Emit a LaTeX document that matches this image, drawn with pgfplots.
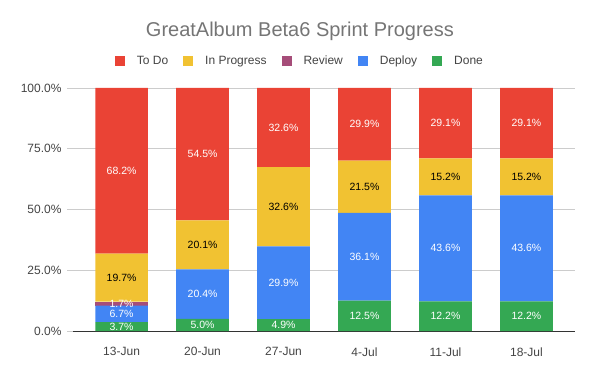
\documentclass[border=0pt]{standalone}
\usepackage{pgfplots}
\usepackage{pgfplotstable}
\pgfplotsset{compat=1.18}
\usepackage{fontspec}
\setmainfont{Liberation Sans}
\definecolor{cTodo}{HTML}{EA4335}
\definecolor{cProg}{HTML}{F1C232}
\definecolor{cRev}{HTML}{A64D79}
\definecolor{cDep}{HTML}{4285F4}
\definecolor{cDone}{HTML}{34A853}
\definecolor{cTick}{HTML}{444444}
\definecolor{cTitle}{HTML}{757575}
\definecolor{cGrid}{HTML}{CCCCCC}
\definecolor{cAxis}{HTML}{333333}
\pgfplotstableread{
x done deploy review prog todo
0 3.7 6.7 1.7 19.7 68.2
1 5.0 20.4 0 20.1 54.5
2 4.9 29.9 0 32.6 32.6
3 12.5 36.1 0 21.5 29.9
4 12.2 43.6 0 15.2 29.1
5 12.2 43.6 0 15.2 29.1
}\data
\pgfplotsset{
  geom/.style={at={(73bp,40bp)}, anchor=south west,
    scale only axis, width=502bp, height=243bp,
    xmin=-0.6, xmax=5.6, ymin=0, ymax=100},
  lbl/.style={only marks, mark=*, mark size=0pt, mark options={draw=none, fill=none},
    point meta=explicit, nodes near coords={\pgfmathprintnumber[assume math mode=true,fixed,fixed zerofill,precision=1]{\pgfplotspointmeta}\%},
    every node near coord/.append style={anchor=center, inner sep=0pt,
      font=\fontsize{10.5bp}{12bp}\selectfont, text=#1}},
}
\begin{document}
\begin{tikzpicture}[x=1bp,y=1bp]
\useasboundingbox (0,0) rectangle (600,371);
\begin{axis}[
  geom,
  ybar stacked, bar width=0.65,
  xtick={0,...,5},
  xticklabels={13-Jun,20-Jun,27-Jun,4-Jul,11-Jul,18-Jul},
  ytick={0,25,50,75,100},
  yticklabel={\pgfmathprintnumber[fixed,fixed zerofill,precision=1]{\tick}\%},
  /pgf/number format/assume math mode=true,
  ticklabel style={font=\fontsize{12bp}{14bp}\selectfont, text=cTick},
  axis x line*=bottom, axis y line*=left,
  y axis line style={draw=none},
  x axis line style={draw=cAxis, line width=0.9bp, -},
  xtick style={draw=none},
  ytick style={draw=cGrid, line width=0.8bp},
  tick align=outside, major tick length=6bp,
  ymajorgrids, grid style={draw=cGrid, line width=0.8bp},
  xticklabel style={yshift=-7bp},
  yticklabel style={xshift=-2bp},
  title={GreatAlbum Beta6 Sprint Progress},
  title style={at={(0.452,1.21)}, anchor=center, font=\fontsize{20bp}{24bp}\selectfont, text=cTitle},
  legend style={at={(0.452,1.111)}, anchor=center, draw=none, legend columns=5,
    font=\fontsize{12bp}{14bp}\selectfont, text=cTick,
    /tikz/every odd column/.append style={column sep=10bp},
    /tikz/every even column/.append style={column sep=13bp}},
  legend image code/.code={\fill[#1] (0bp,-5bp) rectangle (10bp,5bp);},
  reverse legend,
]
\addplot[fill=cDone, draw=none] table[x=x, y=done] {\data};
\addplot[fill=cDep, draw=none] table[x=x, y=deploy] {\data};
\addplot[fill=cRev, draw=none] table[x=x, y=review] {\data};
\addplot[fill=cProg, draw=none] table[x=x, y=prog] {\data};
\addplot[fill=cTodo, draw=none] table[x=x, y=todo] {\data};
\legend{Done,Deploy,Review,In Progress,To Do}
\end{axis}
\begin{axis}[geom, hide axis, clip=false]
\addplot[lbl=white] table[x=x, y expr={\thisrow{done}/2}, meta=done] {\data};
\addplot[lbl=white] table[x=x, y expr={\thisrow{done}+\thisrow{deploy}/2}, meta=deploy] {\data};
\addplot[lbl=white] table[x=x, y expr={\thisrow{done}+\thisrow{deploy}+\thisrow{review}/2}, meta=review] {
x done deploy review
0 3.7 6.7 1.7
};
\addplot[lbl=black] table[x=x, y expr={\thisrow{done}+\thisrow{deploy}+\thisrow{review}+\thisrow{prog}/2}, meta=prog] {\data};
\addplot[lbl=white] table[x=x, y expr={\thisrow{done}+\thisrow{deploy}+\thisrow{review}+\thisrow{prog}+\thisrow{todo}/2}, meta=todo] {\data};
\end{axis}
\end{tikzpicture}
\end{document}
